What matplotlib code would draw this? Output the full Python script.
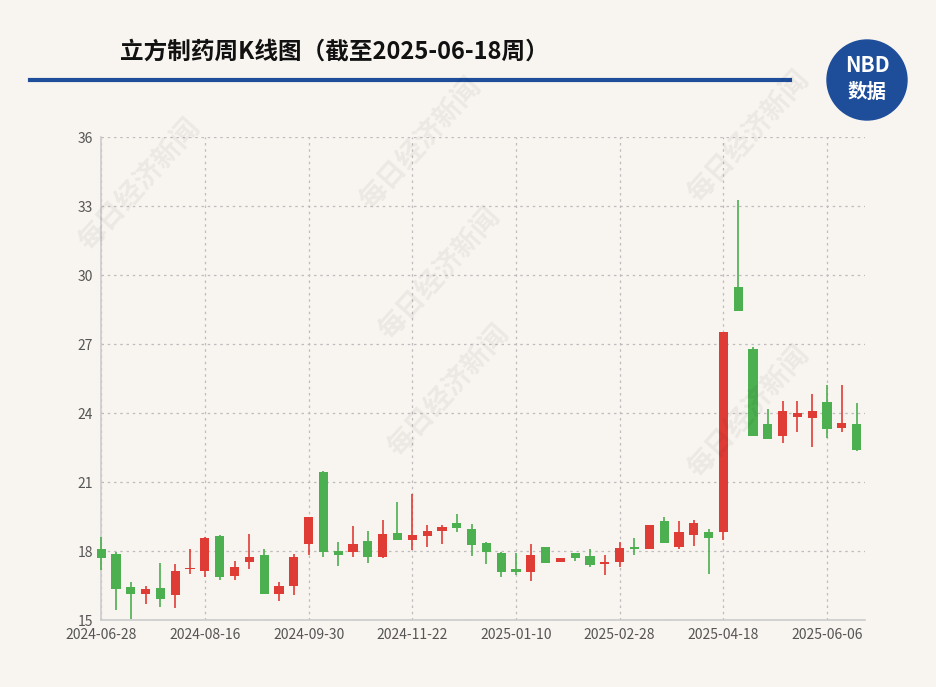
import matplotlib
matplotlib.use("Agg")
import matplotlib.pyplot as plt
from matplotlib.patches import Ellipse
plt.rcParams['font.family'] = ['Noto Sans CJK SC', 'DejaVu Sans']

opens  = [18.07,17.86,16.45,16.12,16.41,16.09,17.22,17.13,18.67,16.91,17.52,17.84,16.13,16.48,18.30,21.45,18.00,17.97,18.45,17.75,18.77,18.48,18.67,18.87,19.20,18.96,18.33,17.90,17.22,17.07,18.19,17.54,17.90,17.78,17.42,17.54,18.15,18.07,19.32,18.16,18.70,18.84,18.84,29.49,26.77,23.51,23.00,23.84,23.77,24.49,23.33,23.52]
closes = [17.70,16.33,16.12,16.35,15.93,17.13,17.28,18.55,16.88,17.29,17.75,16.13,16.49,17.75,19.47,17.97,17.83,18.32,17.75,18.74,18.48,18.70,18.87,19.04,18.99,18.26,17.97,17.07,17.10,17.83,17.49,17.68,17.68,17.39,17.54,18.12,18.10,19.13,18.33,18.84,19.23,18.55,27.51,28.45,23.01,22.86,24.09,23.99,24.10,23.29,23.55,22.39]
highs  = [18.62,17.94,16.67,16.48,17.46,17.42,18.09,18.62,18.70,17.58,18.76,18.10,16.67,17.87,19.47,21.46,18.41,19.09,18.86,19.35,20.12,20.47,19.13,19.13,19.61,19.17,18.41,17.97,17.90,18.32,18.19,17.70,17.90,18.07,17.83,18.38,18.56,19.13,19.47,19.32,19.35,18.94,27.51,33.26,26.87,24.17,24.54,24.54,24.81,25.22,25.22,24.45]
lows   = [17.17,15.43,15.03,15.70,15.58,15.51,16.99,16.87,16.74,16.74,17.22,16.13,15.84,16.09,17.84,17.75,17.36,17.75,17.49,17.68,18.48,18.04,18.16,18.29,18.84,17.78,17.42,16.86,16.97,16.68,17.49,17.54,17.55,17.31,16.97,17.31,17.83,18.07,18.33,18.10,18.24,17.02,18.50,28.45,23.01,22.86,22.71,23.17,22.51,22.90,23.17,22.35]
tick_pos = [0, 7, 14, 21, 28, 35, 42, 49]
tick_labels = ["2024-06-28","2024-08-16","2024-09-30","2024-11-22","2025-01-10","2025-02-28","2025-04-18","2025-06-06"]
y_ticks = [15, 18, 21, 24, 27, 30, 33, 36]

bg = '#f8f5f0'
fig = plt.figure(figsize=(9.37, 6.87), dpi=100, facecolor=bg)
ax = fig.add_axes([0.108, 0.0975, 0.815, 0.703], facecolor=bg)
red, green = '#e03c36', '#4caf50'
for i, (o, c, h, l) in enumerate(zip(opens, closes, highs, lows)):
    col = red if c >= o else green
    ax.vlines(i, l, h, color=col, lw=1.2, zorder=3, clip_on=False)
    b = max(abs(c - o), 0.06)
    ax.bar(i, b, bottom=min(o, c), width=0.62, color=col, zorder=4, clip_on=False)

ax.set_xlim(0, 51.55)
ax.set_ylim(15, 36)
ax.set_yticks(y_ticks)
ax.set_xticks(tick_pos)
ax.set_xticklabels(tick_labels)
ax.grid(True, color='#bdbdbd', ls=(0, (2, 3)), lw=0.9)
ax.tick_params(axis='both', labelsize=10, colors='#555555', length=0, pad=6)
for s in ['top', 'right']:
    ax.spines[s].set_visible(False)
for s in ['left', 'bottom']:
    ax.spines[s].set_color('#cccccc')
    ax.spines[s].set_linewidth(1.2)

# watermarks
for (x, y) in [(0.15, 0.73), (0.45, 0.79), (0.80, 0.80), (0.48, 0.43), (0.80, 0.40), (0.47, 0.60)]:
    fig.text(x, y, '每日经济新闻', fontsize=20, color='#000000', alpha=0.05,
             rotation=48, ha='center', va='center', fontweight='bold')

fig.text(0.128, 0.925, '立方制药周K线图（截至2025-06-18周）', fontsize=17, fontweight='bold',
         color='#111111', va='center', ha='left')
fig.add_artist(plt.Line2D([0.032, 0.843], [0.884, 0.884], color='#1e4d9a', lw=3))
circ = Ellipse((867/937, 1-80/687), 80/937, 80/687, transform=fig.transFigure, color='#1e4d9a')
fig.add_artist(circ)
fig.text(867/937, 1-66/687, 'NBD', color='white', fontsize=15, fontweight='bold', ha='center', va='center', style='italic')
fig.text(867/937, 1-92/687, '数据', color='white', fontsize=14, fontweight='bold', ha='center', va='center')

fig.savefig('out.png', dpi=100, facecolor=bg)
